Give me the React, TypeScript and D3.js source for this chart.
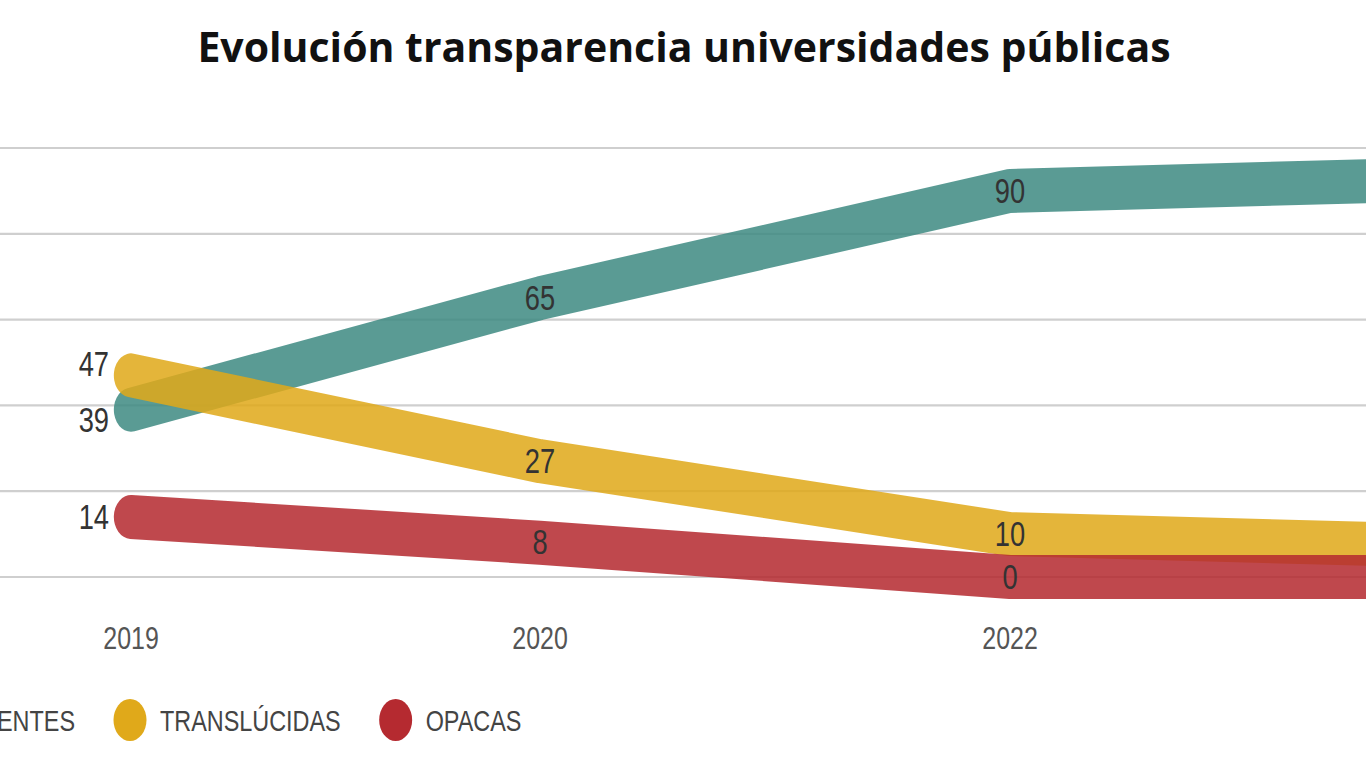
// Evolución transparencia universidades públicas — thick-band line chart.
// The reference reads as horizontally squeezed (~0.78), so small texts, caps
// and legend dots are drawn with that x-squash; the title is left as is.
import { useEffect, useRef } from "react";
import * as d3 from "d3";

const TITLE = "Evolución transparencia universidades públicas";
const YEARS = ["2019", "2020", "2022", "2023"];
const TRANSPARENTES = [39, 65, 90, 93];
const TRANSLUCIDAS = [47, 27, 10, 7];
const OPACAS = [14, 8, 0, 0];
const SERIES_NAMES = ["TRANSPARENTES", "TRANSLÚCIDAS", "OPACAS"];
const SERIES_COLORS = ["#3f8a82", "#e0a91a", "#b52a30"];
const Y_TICKS = [0, 20, 40, 60, 80, 100];

const W = 1366;
const H = 768;
const SX = 0.78; // horizontal squash of the source image
const FONT = "'Liberation Sans', Arial, sans-serif";

export default function App() {
  const ref = useRef<SVGSVGElement>(null);

  useEffect(() => {
    const node = ref.current;
    if (!node) return;
    const svg = d3.select(node);
    svg.selectAll("*").remove();

    const series = [TRANSPARENTES, TRANSLUCIDAS, OPACAS];

    const x = d3.scaleLinear().domain([0, 1, 2, 3]).range([131, 540, 1010, 1480]);
    const y = d3.scaleLinear().domain([0, 100]).range([577, 148]);

    // title
    svg
      .append("text")
      .attr("x", W / 2 + 1)
      .attr("y", 62)
      .attr("text-anchor", "middle")
      .attr("font-family", "'Open Sans', sans-serif")
      .attr("font-weight", 700)
      .attr("font-size", 41)
      .attr("fill", "#111")
      .text(TITLE);

    // gridlines
    svg
      .append("g")
      .selectAll("line")
      .data(Y_TICKS)
      .join("line")
      .attr("x1", 0)
      .attr("x2", W)
      .attr("y1", (d) => y(d))
      .attr("y2", (d) => y(d))
      .attr("stroke", "#cfcfcf")
      .attr("stroke-width", 2.2);

    // bands (drawn in squashed space so round caps become ellipses)
    const line = d3
      .line<number>()
      .x((_, i) => x(i) / SX)
      .y((d) => y(d));
    svg
      .append("g")
      .attr("transform", `scale(${SX},1)`)
      .selectAll("path")
      .data(series)
      .join("path")
      .attr("d", (d) => line(d))
      .attr("fill", "none")
      .attr("stroke", (_, i) => SERIES_COLORS[i])
      .attr("stroke-opacity", 0.86)
      .attr("stroke-width", 44)
      .attr("stroke-linecap", "round")
      .attr("stroke-linejoin", "round");

    const squashText = (
      g: d3.Selection<SVGGElement, unknown, null, undefined>,
      tx: number,
      ty: number,
      txt: string,
      size: number,
      anchor: string,
      fill: string,
    ) =>
      g
        .append("text")
        .attr("transform", `translate(${tx},${ty}) scale(${SX},1)`)
        .attr("text-anchor", anchor)
        .attr("dominant-baseline", "central")
        .attr("font-family", FONT)
        .attr("font-size", size)
        .attr("fill", fill)
        .text(txt);

    // value labels
    const labels = svg.append("g");
    // first column sits left of the band starts; nudge close ones apart
    const first = series
      .map((s, k) => ({ k, v: s[0], ly: y(s[0]) }))
      .sort((a, b) => a.ly - b.ly);
    for (let i = 1; i < first.length; i++) {
      const gap = first[i].ly - first[i - 1].ly;
      if (gap < 56) {
        const push = (56 - gap) / 2;
        first[i - 1].ly -= push;
        first[i].ly += push;
      }
    }
    first.forEach((d) => squashText(labels, x(0) - 22, d.ly, String(d.v), 35, "end", "#333"));
    // later columns centred on the band; the last one falls past the crop
    series.forEach((s) =>
      s.slice(1).forEach((v, j) => {
        if (x(j + 1) > W) return;
        squashText(labels, x(j + 1), y(v), String(v), 35, "middle", "#333");
      }),
    );

    // x axis labels
    const axis = svg.append("g");
    YEARS.forEach((yr, i) => {
      if (x(i) > W) return;
      squashText(axis, x(i), 638, yr, 32, "middle", "#555");
    });

    // legend, laid out in a row so that the second dot lands at x=130
    const legend = svg.append("g");
    const widths = SERIES_NAMES.map((name) => {
      const t = squashText(legend, 0, -100, name, 30, "start", "#444");
      const w = (t.node() as SVGTextElement).getComputedTextLength() * SX;
      t.remove();
      return w;
    });
    const dotToText = 30;
    const textToDot = 55;
    let cx = 130 - textToDot - widths[0] - dotToText;
    SERIES_NAMES.forEach((name, i) => {
      legend
        .append("ellipse")
        .attr("cx", cx)
        .attr("cy", 720)
        .attr("rx", 16.5)
        .attr("ry", 21)
        .attr("fill", SERIES_COLORS[i]);
      squashText(legend, cx + dotToText, 721, name, 30, "start", "#444");
      cx += dotToText + widths[i] + textToDot;
    });
  }, []);

  return (
    <>
      <style>{`body { margin: 0; background: #fff; overflow: hidden; }`}</style>
      <svg ref={ref} width={W} height={H} viewBox={`0 0 ${W} ${H}`} style={{ display: "block" }} />
    </>
  );
}
